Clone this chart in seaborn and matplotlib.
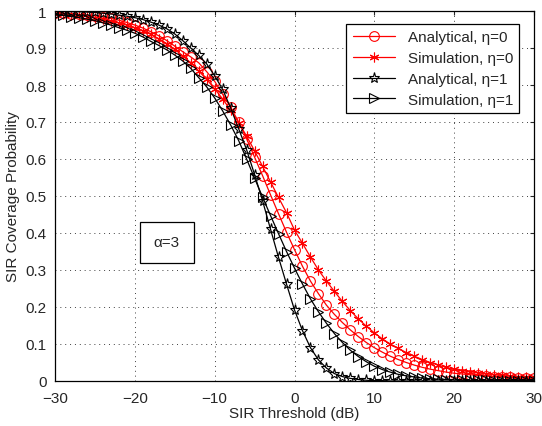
import numpy as np
import pandas as pd
import matplotlib
matplotlib.use("Agg")
import matplotlib.pyplot as plt
import seaborn as sns

sir_db = list(range(-30, 31))

ana_eta0 = [0.995, 0.994, 0.993, 0.991, 0.989, 0.987, 0.984, 0.980, 0.975, 0.969,
            0.962, 0.954, 0.944, 0.933, 0.920, 0.905, 0.890, 0.876, 0.860, 0.836,
            0.810, 0.775, 0.740, 0.700, 0.655, 0.605, 0.555, 0.503, 0.452, 0.402,
            0.355, 0.310, 0.270, 0.236, 0.205, 0.180, 0.158, 0.138, 0.120, 0.104,
            0.090, 0.078, 0.067, 0.058, 0.050, 0.043, 0.037, 0.032, 0.028, 0.024,
            0.021, 0.019, 0.017, 0.015, 0.013, 0.012, 0.011, 0.010, 0.009, 0.008,
            0.007]
sim_eta0 = [0.993, 0.992, 0.990, 0.988, 0.985, 0.982, 0.978, 0.973, 0.968, 0.962,
            0.955, 0.947, 0.937, 0.925, 0.912, 0.896, 0.879, 0.860, 0.838, 0.815,
            0.790, 0.762, 0.732, 0.698, 0.662, 0.622, 0.580, 0.538, 0.496, 0.455,
            0.408, 0.372, 0.335, 0.300, 0.270, 0.242, 0.215, 0.190, 0.168, 0.148,
            0.130, 0.114, 0.100, 0.088, 0.077, 0.067, 0.058, 0.050, 0.043, 0.037,
            0.032, 0.028, 0.025, 0.022, 0.019, 0.017, 0.015, 0.013, 0.012, 0.011,
            0.010]
ana_eta1 = [0.999, 0.999, 0.998, 0.998, 0.997, 0.996, 0.994, 0.992, 0.989, 0.986,
            0.982, 0.977, 0.970, 0.962, 0.952, 0.938, 0.920, 0.900, 0.880, 0.857,
            0.825, 0.788, 0.738, 0.682, 0.625, 0.558, 0.487, 0.410, 0.334, 0.262,
            0.192, 0.136, 0.090, 0.057, 0.035, 0.020, 0.012, 0.007, 0.004, 0.002,
            0.001, 0.001, 0.000, 0.000, 0.000, 0.000, 0.000, 0.000, 0.000, 0.000,
            0.000, 0.000, 0.000, 0.000, 0.000, 0.000, 0.000, 0.000, 0.000, 0.000,
            0.000]
sim_eta1 = [0.990, 0.988, 0.985, 0.982, 0.978, 0.974, 0.968, 0.962, 0.955, 0.948,
            0.940, 0.930, 0.918, 0.907, 0.895, 0.881, 0.865, 0.845, 0.820, 0.795,
            0.765, 0.730, 0.692, 0.650, 0.600, 0.548, 0.497, 0.447, 0.398, 0.350,
            0.305, 0.262, 0.222, 0.187, 0.156, 0.128, 0.104, 0.083, 0.066, 0.052,
            0.040, 0.031, 0.024, 0.018, 0.014, 0.011, 0.008, 0.006, 0.005, 0.004,
            0.003, 0.002, 0.002, 0.002, 0.002, 0.001, 0.001, 0.001, 0.001, 0.001,
            0.001]

series = [
    ("Analytical, \u03b7=0", ana_eta0, dict(color="red", marker="o", markerfacecolor="none", markersize=7)),
    ("Simulation, \u03b7=0", sim_eta0, dict(color="red", marker=(6, 2, 0), markersize=7)),
    ("Analytical, \u03b7=1", ana_eta1, dict(color="black", marker="*", markerfacecolor="none", markersize=8)),
    ("Simulation, \u03b7=1", sim_eta1, dict(color="black", marker=">", markerfacecolor="none", markersize=7)),
]

sns.set_style("white")
plt.rcParams["font.family"] = ["Liberation Sans", "DejaVu Sans"]

fig = plt.figure(figsize=(5.42, 4.27), dpi=100)
ax = fig.add_axes([55 / 542, 45 / 427, 479 / 542, 370 / 427])

for name, vals, style in series:
    df = pd.DataFrame({"x": sir_db, "y": vals})
    sns.lineplot(data=df, x="x", y="y", ax=ax, label=name, linewidth=0.9,
                 markeredgewidth=0.8, markeredgecolor=style["color"], **style)

ax.set_xlim(-30, 30)
ax.set_ylim(0, 1)
ax.set_xticks(range(-30, 31, 10))
ax.set_xticklabels(["\u221230", "\u221220", "\u221210", "0", "10", "20", "30"])
ax.set_yticks(np.arange(0, 1.01, 0.1))
ax.set_yticklabels(["0"] + ["0.%d" % i for i in range(1, 10)] + ["1"])
ax.tick_params(direction="in", length=3, labelsize=11, top=True, right=True)
ax.tick_params(axis="x", pad=7)
ax.tick_params(axis="y", pad=6)
ax.grid(True, color="0.25", linestyle=(0, (1, 4)), linewidth=0.7)
for s in ax.spines.values():
    s.set_color("black")
    s.set_linewidth(0.9)
ax.set_xlabel("SIR Threshold (dB)", fontsize=11, labelpad=1)
ax.set_ylabel("SIR Coverage Probability", fontsize=11, labelpad=4)

leg = ax.legend(loc="upper right", bbox_to_anchor=(464 / 479, 357 / 370),
                fontsize=11, frameon=True, fancybox=False, framealpha=1,
                edgecolor="black", handlelength=2.8, borderaxespad=0,
                labelspacing=0.45)
leg.get_frame().set_linewidth(0.9)

ax.text(-16, 0.375, "\u03b1=3", fontsize=11, ha="center", va="center",
        bbox=dict(boxstyle="square,pad=0.9", facecolor="white", edgecolor="black", linewidth=0.9))

fig.savefig("out.png", dpi=100)
